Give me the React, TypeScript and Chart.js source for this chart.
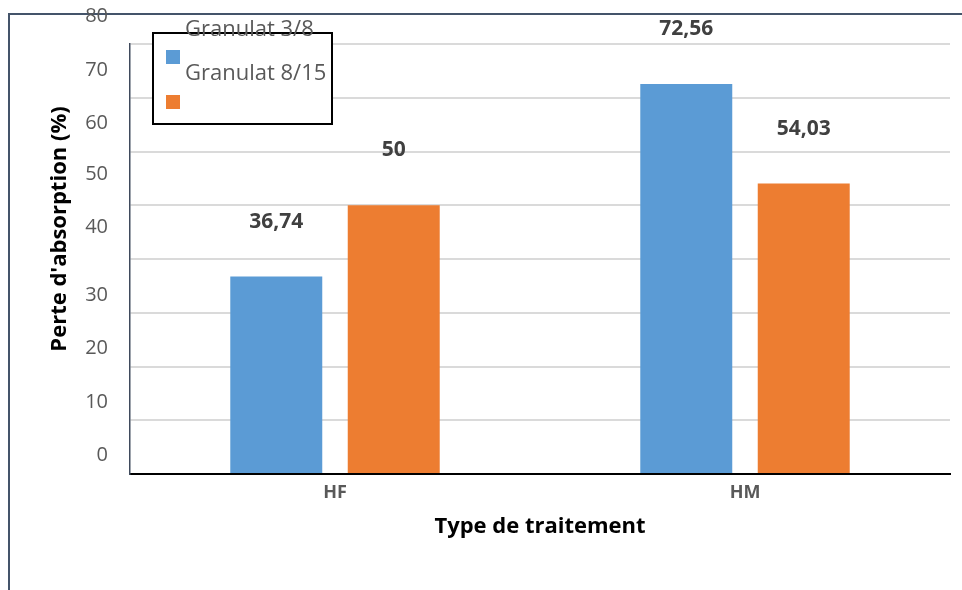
import React, { useEffect, useRef } from "react";
import { Chart, registerables } from "chart.js";

Chart.register(...registerables);

// Treatment types and absorption loss (%) for each aggregate size
const categories = ["HF", "HM"];
const seriesNames = ["Granulat 3/8", "Granulat 8/15"];
const granulat38 = [36.74, 72.56];
const granulat815 = [50, 54.03];
const yTickValues = [0, 10, 20, 30, 40, 50, 60, 70, 80];
const yTitle = "Perte d'absorption (%)";
const xTitle = "Type de traitement";

const BLUE = "#5B9BD5";
const ORANGE = "#ED7D31";
const FONT = '"Open Sans", "DejaVu Sans", sans-serif';

// tick label vertical nudges (px), one per tick value above
const tickNudge = [-19, -18, -18, -17, -32, -31, -28, -27, -28];

const fmt = (v: number) => String(v).replace(".", ",");

const decorations = {
  id: "decorations",
  afterDraw(chart: any) {
    const ctx = chart.ctx as CanvasRenderingContext2D;
    const xs = chart.scales.x;
    const ys = chart.scales.y;
    const area = chart.chartArea;
    ctx.save();

    // outer frame (top and left edges)
    ctx.strokeStyle = "#44546A";
    ctx.lineWidth = 2;
    ctx.beginPath();
    ctx.moveTo(9, 590);
    ctx.lineTo(9, 14);
    ctx.lineTo(962, 14);
    ctx.stroke();

    // y tick labels
    ctx.fillStyle = "#595959";
    ctx.font = `20px ${FONT}`;
    ctx.textAlign = "right";
    ctx.textBaseline = "middle";
    yTickValues.forEach((v, i) => {
      ctx.fillText(String(v), 108, ys.getPixelForValue(v) + tickNudge[i]);
    });

    // y axis title
    ctx.save();
    ctx.translate(60, 229);
    ctx.rotate(-Math.PI / 2);
    ctx.fillStyle = "#000";
    ctx.font = `bold 22px ${FONT}`;
    ctx.textAlign = "center";
    ctx.fillText(yTitle, 0, 0);
    ctx.restore();

    // category labels
    ctx.fillStyle = "#595959";
    ctx.font = `bold 18px ${FONT}`;
    ctx.textAlign = "center";
    categories.forEach((c, i) => {
      ctx.fillText(c, xs.getPixelForValue(i), area.bottom + 19);
    });

    // x axis title
    ctx.fillStyle = "#000";
    ctx.font = `bold 22px ${FONT}`;
    ctx.fillText(xTitle, (area.left + area.right) / 2, area.bottom + 53);

    // value labels
    ctx.fillStyle = "#404040";
    ctx.font = `bold 21px ${FONT}`;
    chart.data.datasets.forEach((ds: any, di: number) => {
      const meta = chart.getDatasetMeta(di);
      meta.data.forEach((el: any, i: number) => {
        ctx.fillText(fmt(ds.data[i]), el.x, el.y - 55);
      });
    });

    // legend box
    ctx.fillStyle = "#fff";
    ctx.fillRect(153, 33, 179, 91);
    ctx.strokeStyle = "#000";
    ctx.lineWidth = 2;
    ctx.strokeRect(153, 33, 179, 91);
    ctx.fillStyle = BLUE;
    ctx.fillRect(166, 50, 14, 14);
    ctx.fillStyle = ORANGE;
    ctx.fillRect(166, 95, 14, 14);
    ctx.fillStyle = "#595959";
    ctx.font = `22px ${FONT}`;
    ctx.textAlign = "left";
    ctx.fillText(seriesNames[0], 185, 30);
    ctx.fillText(seriesNames[1], 185, 74);

    ctx.restore();
  },
};

export default function App() {
  const ref = useRef<HTMLCanvasElement>(null);

  useEffect(() => {
    if (!ref.current) return;
    const chart = new Chart(ref.current, {
      type: "bar",
      data: {
        labels: categories,
        datasets: [
          {
            label: seriesNames[0],
            data: granulat38,
            backgroundColor: BLUE,
            categoryPercentage: 0.573,
            barPercentage: 0.783,
          },
          {
            label: seriesNames[1],
            data: granulat815,
            backgroundColor: ORANGE,
            categoryPercentage: 0.573,
            barPercentage: 0.783,
          },
        ],
      },
      options: {
        responsive: false,
        animation: false,
        devicePixelRatio: 1,
        layout: { padding: { left: 130, top: 44, right: 12, bottom: 116 } },
        plugins: {
          legend: { display: false },
          tooltip: { enabled: false },
        },
        scales: {
          x: {
            grid: { display: false, drawTicks: false },
            ticks: { display: false },
            border: { display: true, color: "#000", width: 2 },
          },
          y: {
            min: 0,
            max: 80,
            ticks: { display: false, stepSize: 10 },
            grid: { color: "#dadada", lineWidth: 2, drawTicks: false },
            border: { display: true, color: "#3f4a5c", width: 1.5 },
          },
        },
      },
      plugins: [decorations],
    });
    return () => chart.destroy();
  }, []);

  return (
    <div style={{ position: "fixed", left: 0, top: 0, width: 962, height: 590, background: "#fff" }}>
      <canvas ref={ref} width={962} height={590} />
    </div>
  );
}
